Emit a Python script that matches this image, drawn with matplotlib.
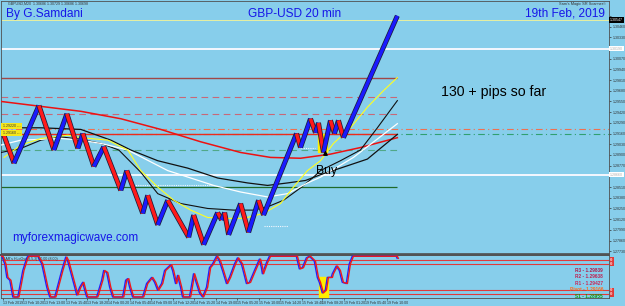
import matplotlib
matplotlib.use("Agg")
import matplotlib.pyplot as plt
import matplotlib.patheffects as pe
import numpy as np

# ---- renko swing points (bar index, price) ----
swing_bars = [2, 13, 38, 53, 66, 77, 82, 93, 103, 120, 126, 142, 147, 157, 167, 188,
              193, 203, 217, 221, 224, 228, 240, 248, 258, 263, 296, 300, 310, 315,
              318, 323, 330, 334, 338, 343, 397]
swing_prices = [1.2917, 1.2880, 1.2950, 1.2896, 1.2940, 1.2898, 1.2916, 1.2876, 1.2900,
                1.2847, 1.2871, 1.2819, 1.2841, 1.2805, 1.2835, 1.2790, 1.2817, 1.2781,
                1.2820, 1.2811, 1.2820, 1.2793, 1.2831, 1.2796, 1.2835, 1.2817, 1.2916,
                1.2899, 1.2934, 1.2917, 1.2929, 1.2893, 1.2932, 1.2916, 1.2932, 1.2911,
                1.3059]

# ---- moving averages ----
red_ma_x = [0, 40, 80, 120, 160, 200, 240, 270, 300, 330, 360, 397]
red_ma = [1.2955, 1.2949, 1.2943, 1.2934, 1.2921, 1.2906, 1.2893, 1.2887, 1.2886,
          1.2891, 1.2899, 1.2911]
slow_black_x = [0, 40, 80, 110, 130, 157, 187, 217, 247, 267, 287, 305, 320, 340, 367, 397]
slow_black = [1.2923, 1.2923, 1.2921, 1.2908, 1.2896, 1.2883, 1.2874, 1.2862, 1.2856,
              1.2853, 1.2856, 1.2859, 1.2866, 1.2874, 1.2885, 1.2915]
fast_black_x = [0, 20, 40, 60, 80, 100, 118, 140, 157, 180, 207, 233, 253, 267, 283,
                300, 313, 320, 340, 360, 377, 397]
fast_black = [1.2893, 1.2898, 1.2908, 1.2912, 1.2909, 1.2904, 1.2896, 1.2869, 1.2843,
              1.2831, 1.2825, 1.2823, 1.2823, 1.2827, 1.2835, 1.2850, 1.2863, 1.2871,
              1.2883, 1.2896, 1.2923, 1.2956]
white_ma_x = [0, 20, 60, 80, 100, 127, 167, 213, 240, 267, 287, 307, 320, 353, 397]
white_ma = [1.2902, 1.2908, 1.2910, 1.2908, 1.2904, 1.2896, 1.2871, 1.2853, 1.2845,
            1.2839, 1.2843, 1.2856, 1.2863, 1.2887, 1.2928]
yellow_ma_x = [3, 20, 40, 67, 80, 107, 127, 140, 157, 173, 190, 207, 227, 243, 263, 280,
               293, 307, 320, 333, 350, 367, 383, 397]
yellow_ma = [1.2887, 1.2902, 1.2910, 1.2914, 1.2911, 1.2908, 1.2896, 1.2871, 1.2851,
             1.2835, 1.2823, 1.2814, 1.2813, 1.2813, 1.2819, 1.2831, 1.2851, 1.2871,
             1.2883, 1.2904, 1.2923, 1.2948, 1.2968, 1.2984]

# ---- horizontal levels ----
level_prices = [1.3054, 1.3019, 1.2984, 1.2960, 1.2940, 1.2922, 1.2916, 1.2915, 1.2896,
                1.2866, 1.2851]
level_colors = ["#e8f0a0", "#f4f8ff", "#a04848", "#c86878", "#c86878", "#f07050",
                "#30a070", "#ee2a1a", "#50a888", "#f4f8ff", "#1f6a2a"]
level_styles = ["-", "-", "-", (0, (6, 4)), (0, (6, 4)), (0, (6, 3, 1, 3)),
                (0, (6, 3, 1, 3)), "-", (0, (6, 4)), "-", "-"]
level_widths = [0.7, 1.4, 1.0, 0.8, 0.8, 0.8, 0.8, 1.0, 0.8, 1.4, 0.9]
level_full = [True, True, False, False, False, True, True, False, False, True, False]

dotted_prices = [1.2853, 1.2804, 1.2899]
dotted_from = [130, 263, 300]
dotted_to = [213, 287, 315]

# ---- oscillator ----
osc_x = [0, 2, 5, 7, 10, 13, 18, 23, 27, 28, 38, 42, 47, 50, 55, 62, 66, 68, 75, 77, 80,
         83, 85, 87, 97, 102, 104, 107, 110, 113, 123, 126, 128, 130, 133, 143, 147, 152,
         155, 158, 162, 165, 168, 171, 173, 176, 178, 181, 183, 190, 194, 197, 200, 203,
         207, 210, 213, 217, 220, 223, 227, 230, 235, 238, 242, 247, 250, 255, 260, 262,
         263, 267, 270, 297, 300, 303, 307, 310, 315, 318, 320, 323, 326, 328, 332, 333,
         337, 340, 343, 347, 350, 353, 397, 398]
osc_val = [100, 100, 81, 48, 41, 0, 0, 65, 96, 100, 100, 81, 24, 0, 0, 65, 98, 88, 24, 5,
           24, 36, 17, 0, 0, 41, 65, 60, 24, 0, 0, 41, 45, 24, 0, 0, 33, 48, 36, 17, 33,
           65, 72, 79, 65, 33, 53, 24, 0, 0, 57, 33, 10, 0, 24, 72, 81, 100, 88, 65, 33,
           48, 81, 96, 81, 33, 36, 65, 93, 72, 57, 84, 100, 100, 69, 72, 96, 100, 88, 48,
           36, 10, 17, 48, 48, 57, 76, 65, 36, 33, 81, 100, 100, 95]
osc_levels = [91, 81, 17, 7]

# ---- axis labels ----
price_ticks = [round(1.2773 + 0.0013 * k, 5) for k in range(23)]
marker_prices = [1.3054, 1.3019, 1.2866]
marker_texts = ["1.30547", "1.30190", "1.28660"]
time_ticks = [2, 22, 43, 65, 86, 107, 129, 150, 172, 193, 215, 236, 258, 279, 301, 322,
              344, 365, 387]
time_labels = ["13 Feb 2019", "13 Feb 10:20", "13 Feb 13:00", "13 Feb 15:40",
               "13 Feb 18:20", "14 Feb 00:20", "14 Feb 05:40", "14 Feb 09:00",
               "14 Feb 12:20", "14 Feb 15:20", "14 Feb 19:00", "15 Feb 05:20",
               "15 Feb 10:00", "15 Feb 14:20", "15 Feb 18:40", "18 Feb 08:20",
               "19 Feb 01:20", "19 Feb 05:40", "19 Feb 10:00"]

pivot_names = ["R3 - 1.29839", "R2 - 1.29638", "R1 - 1.29427", "Pivot - 1.29166",
               "S1 - 1.28955"]
pivot_colors = ["#b01848", "#c02050", "#c82858", "#ff6a1a", "#109a10"]

buy_bar = 325
buy_price = 1.2891

BG = "#87ceeb"
plt.rcParams["font.family"] = ["Liberation Sans", "DejaVu Sans"]

fig = plt.figure(figsize=(6.25, 3.06), dpi=100, facecolor=BG)
ax = fig.add_axes([0.0016, 0.1732, 0.9728, 0.8235], facecolor=BG)
axo = fig.add_axes([0.0016, 0.0261, 0.9728, 0.1405], facecolor=BG)

# levels
for p, c, ls, lw, full in zip(level_prices, level_colors, level_styles, level_widths, level_full):
    ax.hlines(p, 0, 609 if full else 397, colors=c, linestyles=ls, linewidth=lw, zorder=1)
for p, a, b in zip(dotted_prices, dotted_from, dotted_to):
    ax.hlines(p, a, b, colors="#f4f8ff", linestyles=(0, (1, 1)), linewidth=0.8, zorder=1)

# buy zone highlight
ax.fill_between([318, 327], 1.2893, 1.2916, color="#ffee00", zorder=2)

# moving averages
ax.plot(red_ma_x, red_ma, color="#ee1111", lw=1.1, zorder=3)
ax.plot(slow_black_x, slow_black, color="#111111", lw=0.9, zorder=3)
ax.plot(fast_black_x, fast_black, color="#111111", lw=0.8, zorder=3)
ax.plot(white_ma_x, white_ma, color="#ffffff", lw=0.9, zorder=3)
ax.plot(yellow_ma_x, yellow_ma, color="#ffff20", lw=0.8, zorder=3)

# renko legs
outline = [pe.Stroke(linewidth=3.6, foreground="#1c1c3a"), pe.Normal()]
for i in range(len(swing_bars) - 1):
    up = swing_prices[i + 1] > swing_prices[i]
    ax.plot(swing_bars[i:i + 2], swing_prices[i:i + 2],
            color="#1a1aff" if up else "#ff1a1a", lw=2.5,
            solid_capstyle="butt", path_effects=outline, zorder=4)

# buy arrow + text
ax.annotate("", xy=(buy_bar, buy_price + 0.0008), xytext=(buy_bar, buy_price - 0.0004),
            arrowprops=dict(arrowstyle="-|>", color="black", lw=1.0, mutation_scale=6),
            zorder=6)
ax.text(buy_bar - 9, buy_price - 0.0020, "Buy", fontsize=8.8, color="black", zorder=6,
        va="center")

ax.set_xlim(0, 609)
ax.set_ylim(1.27709, 1.3077)
ax.set_xticks([])
ax.yaxis.tick_right()
ax.set_yticks(price_ticks)
# tick labels hidden where a price marker sits on the axis
ax.set_yticklabels(["" if min(abs(t - m) for m in marker_prices) < 0.0006 else f"{t:.5f}"
                    for t in price_ticks])
ax.tick_params(axis="y", labelsize=2.6, length=1.5, width=0.5, colors="#303030", pad=1.2)
for s in ax.spines.values():
    s.set_color("#505050")
    s.set_linewidth(0.6)

# price-axis markers
yt = ax.get_yaxis_transform()
for p, t, fc, tc in zip(marker_prices, marker_texts, ["black", "white", "white"],
                        ["white", "#b0b0b0", "#b0b0b0"]):
    ax.text(1.002, p, t, transform=yt, fontsize=2.6, color=tc, va="center",
            bbox=dict(boxstyle="square,pad=0.2", fc=fc, ec="none"), clip_on=False)

# small yellow labels at left
ax.text(1, 1.2925, " 1.29220 ---", fontsize=2.6, color="#333333", va="center",
        bbox=dict(boxstyle="square,pad=0.25", fc="#f5e61a", ec="none"), zorder=5)
ax.text(1, 1.2917, " 1.29160 ---", fontsize=2.6, color="#333333", va="center",
        bbox=dict(boxstyle="square,pad=0.25", fc="#f5e61a", ec="none"), zorder=5)

# oscillator panel
for lv in osc_levels:
    axo.axhline(lv, color="#e03a3a", lw=0.8, zorder=1)
axo.fill_between([319, 328], 0, 48, color="#ffee00", zorder=2)
axo.plot(np.array(osc_x) - 1.2, osc_val, color="#2020ff", lw=1.0, zorder=3)
axo.plot(osc_x, osc_val, color="#ee1a1a", lw=1.0, zorder=4)
axo.set_xlim(0, 609)
axo.set_ylim(-2.5, 103)
axo.set_yticks([])
axo.set_xticks(time_ticks)
axo.set_xticklabels(time_labels, fontsize=2.6, color="#303030", ha="left")
axo.tick_params(axis="x", length=1.5, width=0.5, pad=1.0, colors="#303030")
for s in axo.spines.values():
    s.set_color("#505050")
    s.set_linewidth(0.6)
axo.spines["top"].set_linewidth(1.4)
axo.text(2, 98, "BAR's HLoOsc(8,5,3) 80.00 (8.00)", fontsize=2.6, color="#333333", va="top")

ot = axo.get_yaxis_transform()
for lv in osc_levels:
    axo.text(1.002, lv, "00", transform=ot, fontsize=2.2, color="white", va="center",
             bbox=dict(boxstyle="square,pad=0.15", fc="#e03a3a", ec="none"), clip_on=False)

for i, (name, c) in enumerate(zip(pivot_names, pivot_colors)):
    fig.text(603 / 625, 1 - (270 + 6.6 * i) / 306, name, fontsize=3.4, color=c,
             ha="right", va="center", fontweight="bold")

# captions
blue = "#1616e8"
fig.text(6 / 625, 1 - 14 / 306, "By G.Samdani", fontsize=8.6, color=blue, va="center")
fig.text(295 / 625, 1 - 14 / 306, "GBP-USD 20 min", fontsize=8.6, color=blue, va="center",
         ha="center")
fig.text(605 / 625, 1 - 14 / 306, "19th Feb, 2019", fontsize=8.6, color=blue, va="center",
         ha="right")
fig.text(494 / 625, 1 - 92 / 306, "130 + pips so far", fontsize=10.2, color="black",
         va="center", ha="center")
fig.text(12 / 625, 1 - 238 / 306, "myforexmagicwave.com", fontsize=8.5, color=blue,
         va="center")
fig.text(8 / 625, 1 - 3.5 / 306, "GBPUSD,M20  1.30686 1.30729 1.30686 1.30698",
         fontsize=2.6, color="#333333", va="center")
fig.text(606 / 625, 1 - 4 / 306, "Sam's Magic SR Scanner\u00a9", fontsize=2.8,
         color="#333333", va="center", ha="right")

fig.savefig("out.png", dpi=100, facecolor=BG)
